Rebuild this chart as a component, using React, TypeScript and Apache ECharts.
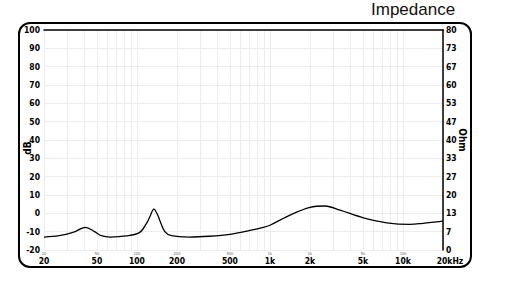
import React, { useEffect, useRef } from "react";
import * as echarts from "echarts";

const freqs = [20, 26, 33, 41, 48, 54, 63, 83, 105, 118, 125, 134, 145, 148, 162, 182, 247, 350, 500, 708, 891, 1000, 1415, 2000, 2594, 3363, 5030, 7550, 11300, 14150, 20000];
const ohms = [4.7, 5.2, 6.4, 8.2, 6.7, 5.2, 4.7, 5.1, 6.4, 9.7, 12.1, 14.9, 12.1, 10.9, 6.7, 5.2, 4.7, 5.0, 5.7, 7.1, 8.2, 9.0, 12.7, 15.5, 16.0, 14.5, 11.7, 9.9, 9.3, 9.7, 10.5];

const labelFreqs = [20, 50, 100, 200, 500, 1000, 2000, 5000, 10000, 20000];
const labelTexts = ["20", "50", "100", "200", "500", "1k", "2k", "5k", "10k", "{end|20kHz}"];
const smallTexts = ["20", "50", "100", "200", "500", "1k", "2k", "5k", "10k", ""];
const gridFreqs = [20, 30, 40, 50, 60, 70, 80, 90, 100, 200, 300, 400, 500, 600, 700, 800, 900, 1000, 2000, 3000, 4000, 5000, 6000, 7000, 8000, 9000, 10000, 20000];

const FONT = "'DejaVu Sans Condensed', 'Liberation Sans Narrow', 'Liberation Sans', Arial, sans-serif";

function lookup(v: number, texts: string[]) {
  const f = Math.pow(10, v);
  let best = 0;
  let bd = Infinity;
  labelFreqs.forEach((lf, i) => {
    const d = Math.abs(Math.log10(lf) - v);
    if (d < bd) { bd = d; best = i; }
  });
  return bd < 0.01 ? texts[best] : String(Math.round(f));
}

export default function App() {
  const ref = useRef<HTMLDivElement>(null);
  useEffect(() => {
    if (!ref.current) return;
    const chart = echarts.init(ref.current, undefined, { renderer: "svg" });
    const xmin = Math.log10(20);
    const xmax = Math.log10(20000);
    const grid = { lineStyle: { color: "#ececec", width: 1, type: "solid" as any } };
    const lbl = { fontSize: 8.5, fontWeight: "bold", fontFamily: FONT, color: "#000" };
    chart.setOption({
      animation: false,
      backgroundColor: "#ffffff",
      title: {
        text: "Impedance",
        left: 366,
        top: -4,
        textStyle: { fontSize: 17, fontWeight: "normal", color: "#111", fontFamily: "'Liberation Sans', Arial, sans-serif" },
      },
      graphic: [
        {
          type: "rect",
          shape: { x: 19, y: 23, width: 452, height: 244, r: 11 },
          style: { fill: "none", stroke: "#000", lineWidth: 2 },
          silent: true,
        },
      ],
      grid: { left: 44, top: 30, right: 62, bottom: 40 },
      xAxis: [
        {
          type: "value",
          min: xmin,
          max: xmax,
          position: "bottom",
          axisLine: { show: false },
          axisTick: { show: false, customValues: gridFreqs.map((f) => Math.log10(f)) },
          splitLine: { show: true, ...grid },
          axisLabel: {
            customValues: labelFreqs.map((f) => Math.log10(f)),
            formatter: (v: number) => lookup(v, labelTexts),
            ...lbl,
            margin: 6,
            rich: { end: { ...lbl, padding: [0, 0, 0, 14] } },
          },
        },
        {
          type: "value",
          min: xmin,
          max: xmax,
          position: "bottom",
          axisLine: { show: false },
          axisTick: { show: false },
          splitLine: { show: false },
          axisLabel: {
            customValues: labelFreqs.map((f) => Math.log10(f)),
            formatter: (v: number) => lookup(v, smallTexts),
            fontSize: 4,
            fontFamily: FONT,
            color: "#666",
            margin: 1,
          },
        },
        {
          type: "value",
          min: xmin,
          max: xmax,
          position: "top",
          axisLine: { show: true, lineStyle: { color: "#000", width: 1.5 } },
          axisTick: { show: false },
          axisLabel: { show: false },
          splitLine: { show: false },
        },
      ],
      yAxis: [
        {
          type: "value",
          min: -20,
          max: 100,
          interval: 10,
          position: "left",
          name: "dB",
          nameLocation: "middle",
          nameRotate: 90,
          nameGap: 12,
          nameMoveOverlap: false,
          nameTextStyle: { fontSize: 10, fontWeight: "bold", fontFamily: FONT, color: "#000", padding: [0, 16, 0, 0] },
          axisLine: { show: false },
          axisTick: { show: false },
          splitLine: { show: true, ...grid },
          axisLabel: { ...lbl, margin: 4 },
        },
        {
          type: "value",
          min: 0,
          max: 80,
          interval: 80 / 12,
          position: "right",
          name: "Ohm",
          nameLocation: "middle",
          nameRotate: -90,
          nameGap: 14,
          nameMoveOverlap: false,
          nameTextStyle: { fontSize: 10, fontWeight: "bold", fontFamily: FONT, color: "#000" },
          axisLine: { show: true, lineStyle: { color: "#000", width: 1.5 } },
          axisTick: { show: false },
          splitLine: { show: false },
          axisLabel: {
            formatter: (v: number) => String(Math.round(v)),
            ...lbl,
            margin: 3,
          },
        },
      ],
      series: [
        {
          type: "line",
          xAxisIndex: 0,
          yAxisIndex: 1,
          data: freqs.map((f, i) => [Math.log10(f), ohms[i]]),
          smooth: 0.35,
          showSymbol: false,
          lineStyle: { color: "#000", width: 1.3 },
        },
      ],
    });
    return () => chart.dispose();
  }, []);
  return <div ref={ref} style={{ position: "fixed", left: 0, top: 0, width: 505, height: 290 }} />;
}
